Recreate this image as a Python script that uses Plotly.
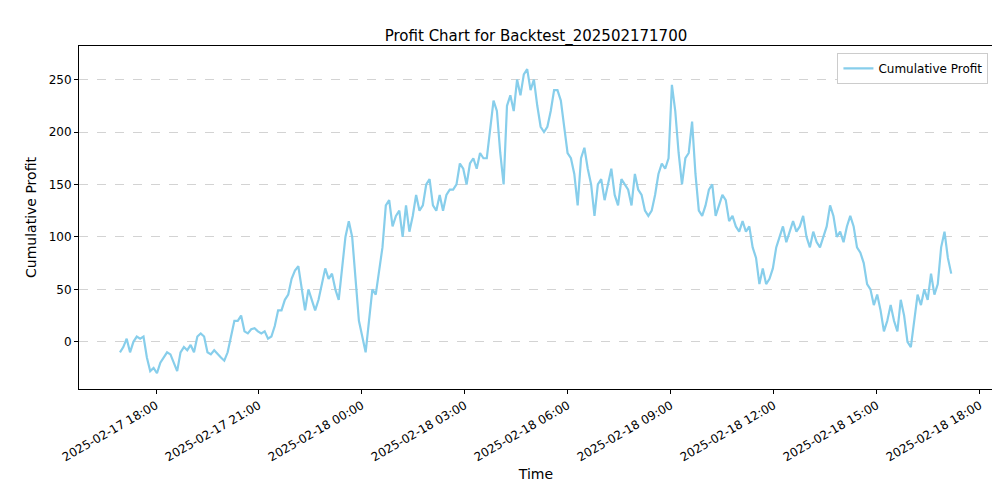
import plotly.graph_objects as go
import pandas as pd

start_time = "2025-02-17 16:57"
end_time = "2025-02-18 17:10"
profit = [-10,-5,3,-10,0,5,3,5,-15,-28,-25,-30,-20,-15,-10,-12,-20,-28,-10,-5,-8,-3,-10,5,8,5,-10,-12,-8,-12,-15,-18,-10,5,20,20,25,10,8,12,13,10,8,10,3,5,15,30,30,40,45,60,68,72,50,30,50,40,30,40,55,70,60,65,50,40,70,100,115,100,60,20,5,-10,20,50,45,70,90,130,135,110,120,125,100,130,105,120,140,125,130,150,155,130,125,140,125,140,145,145,150,170,165,150,170,175,165,180,175,175,200,230,220,180,150,225,235,220,250,235,255,260,240,250,225,205,200,205,220,240,240,230,205,180,175,160,130,175,185,165,150,120,150,155,135,150,165,140,130,155,150,145,130,160,145,140,125,120,125,140,160,170,165,175,245,220,180,150,175,180,210,160,125,120,130,145,150,120,130,140,135,115,120,110,105,115,105,110,90,80,55,70,55,60,70,90,100,110,95,105,115,105,110,120,100,90,105,95,90,100,110,130,120,100,105,95,110,120,110,90,85,75,55,50,35,45,30,10,20,35,20,10,40,25,0,-5,20,45,35,50,40,65,45,55,90,105,80,65]
times = pd.date_range(start_time, end_time, periods=len(profit))

fig = go.Figure(go.Scatter(x=times, y=profit, mode="lines", name="Cumulative Profit",
                           line=dict(color="#87CEEB", width=2.2)))
ax = dict(showline=True, mirror=True, linecolor="black", linewidth=1, ticks="outside",
          ticklen=4, tickcolor="black", zeroline=False, automargin=False)
fig.update_layout(
    width=1000, height=500, template="none", plot_bgcolor="white", paper_bgcolor="white",
    font=dict(family="DejaVu Sans", size=12, color="black"),
    title=dict(text="Profit Chart for Backtest_202502171700", x=0.528, xanchor="center", y=0.955, font=dict(size=15)),
    margin=dict(l=71, r=15, t=38, b=119),
    showlegend=True,
    legend=dict(x=0.995, y=0.98, xanchor="right", yanchor="top", bordercolor="#ccc", borderwidth=1, bgcolor="white"),
    xaxis=dict(**ax, title=dict(text="Time", standoff=5), showgrid=False,
               range=["2025-02-17 15:45:25", "2025-02-18 18:23"],
               tickformat="%Y-%m-%d %H:%M", dtick=3*3600*1000, tick0="2025-02-17 18:00", tickangle=-30),
    yaxis=dict(**ax, title=dict(text="Cumulative Profit", standoff=8), range=[-45, 282], dtick=50,
               showgrid=True, gridcolor="#d3d3d3", griddash="dash"),
)
fig.write_html("out.html")
